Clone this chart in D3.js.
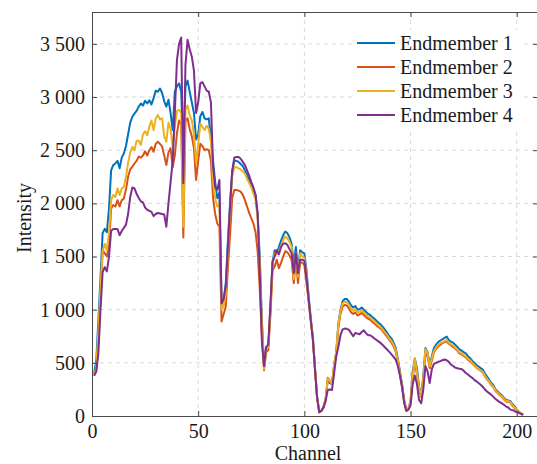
<!DOCTYPE html>
<html>
<head>
<meta charset="utf-8">
<script src="https://cdn.jsdelivr.net/npm/d3@7"></script>
<style>
  body { margin: 0; background: #fff; }
  text { font-family: "Liberation Serif", "Times New Roman", serif; }
</style>
</head>
<body>
<div id="chart"></div>
<script>
  const width = 537;
  const height = 464;
  const margin = { top: 12, bottom: 48, left: 92, right: -1 };

  // channel numbers 1..203
  const channels = d3.range(1, 204);

  const endmember1 = [
    400, 520, 900, 1300, 1720, 1760, 1730, 1950, 2310, 2360,
    2375, 2400, 2330, 2430, 2470, 2540, 2650, 2760, 2815, 2845,
    2870, 2910, 2940, 2920, 2965, 2940, 2970, 2930, 2990, 3060,
    3050, 3080, 3040, 2960, 2910, 2975, 2850, 2690, 3050, 3100,
    3130, 3050, 2450, 3100, 3155, 3050, 2950, 2850, 2600, 2650,
    2820, 2860, 2800, 2790, 2800, 2600, 2400, 2200, 2050, 2100,
    1050, 1100, 1250, 1650, 2000, 2300, 2400, 2400, 2390, 2370,
    2350, 2310, 2270, 2220, 2180, 2130, 2080, 1900, 1500, 900,
    480, 640, 660, 1000, 1450, 1560, 1530, 1590, 1650, 1700,
    1735, 1720, 1680, 1620, 1420, 1590, 1380, 1560, 1540, 1530,
    1370, 1130, 920, 740, 450, 180, 40, 50, 90, 160,
    340, 310, 300, 480, 600, 870, 1000, 1080, 1100, 1100,
    1075, 1040, 1020, 1035, 1000, 1005, 1020, 1000, 980, 960,
    950, 930, 915, 895, 875, 860, 835, 810, 780, 750,
    730, 690, 640, 540, 420, 300, 150, 60, 70, 140,
    420, 540, 450, 275, 200, 380, 640, 600, 480, 560,
    640, 670, 696, 710, 722, 735, 747, 715, 700, 690,
    670, 650, 627, 615, 600, 590, 563, 545, 520, 500,
    480, 465, 450, 437, 400, 370, 340, 310, 290, 250,
    230, 210, 195, 170, 150, 145, 140, 110, 90, 60,
    40, 25, 15
  ];

  const endmember2 = [
    380, 420, 700, 1100, 1560, 1530, 1500, 1600, 1950, 1985,
    1970, 2030, 1970, 2030, 2045, 2130, 2250, 2320, 2345, 2375,
    2400, 2440, 2430, 2450, 2490, 2450, 2500, 2530, 2485, 2560,
    2580, 2560, 2535, 2450, 2360, 2480, 2520, 2340, 2450, 2660,
    2780, 2740, 1680, 2780, 2800, 2700, 2630, 2520, 2220, 2400,
    2560, 2540, 2500, 2510, 2500, 2400, 2050, 1900, 1810, 1780,
    890, 960, 1030, 1400, 1700, 2050, 2125, 2125, 2120, 2110,
    2080, 2030, 1970, 1910, 1860, 1810, 1730, 1550, 1190, 750,
    430, 600, 620, 950, 1370, 1405, 1470, 1390, 1440, 1500,
    1550, 1540, 1510, 1470, 1250, 1460, 1250, 1450, 1440, 1420,
    1250, 1080, 900, 720, 440, 170, 35, 45, 80, 150,
    360, 330, 300, 470, 580, 830, 960, 1030, 1045, 1040,
    1010, 975, 960, 975, 945, 955, 970, 950, 930, 915,
    905, 885, 870, 850, 835, 820, 795, 770, 745, 715,
    690, 655, 605, 510, 390, 275, 135, 50, 65, 130,
    360, 510, 390, 250, 180, 340, 590, 560, 450, 520,
    600, 630, 655, 670, 685, 695, 700, 680, 665, 650,
    635, 615, 590, 580, 565, 550, 530, 515, 495, 475,
    455, 440, 425, 410, 375, 345, 320, 290, 270, 235,
    215, 195, 180, 155, 135, 135, 125, 95, 75, 50,
    32, 20, 10
  ];

  const endmember3 = [
    390, 450, 800, 1200, 1550, 1620, 1560, 1720, 2030, 2080,
    2060, 2140, 2080, 2140, 2155, 2250, 2380, 2480, 2530, 2500,
    2590, 2590, 2550, 2650, 2680, 2640, 2720, 2780, 2690, 2800,
    2830, 2790, 2800, 2630, 2580, 2760, 2700, 2530, 2720, 2870,
    2880, 2850, 1780, 2880, 2920, 2830, 2780, 2650, 2380, 2550,
    2750, 2720, 2690, 2730, 2700, 2580, 2200, 2050, 1970, 2000,
    1000, 1030, 1150, 1550, 1950, 2250, 2340, 2340, 2330, 2320,
    2300, 2280, 2230, 2190, 2150, 2090, 2040, 1850, 1450, 870,
    440, 630, 650, 980, 1420, 1530, 1520, 1550, 1600, 1650,
    1690, 1670, 1640, 1590, 1290, 1530, 1310, 1530, 1500, 1490,
    1330, 1100, 910, 730, 445, 175, 38, 48, 85, 160,
    350, 330, 300, 480, 600, 860, 990, 1060, 1075, 1070,
    1045, 1010, 990, 1005, 975, 980, 995, 975, 955, 935,
    925, 905, 890, 870, 850, 835, 810, 785, 760, 730,
    705, 670, 620, 520, 400, 285, 140, 55, 70, 140,
    380, 540, 410, 260, 190, 360, 630, 590, 470, 540,
    610, 645, 670, 685, 695, 705, 715, 690, 675, 665,
    645, 625, 600, 590, 575, 560, 540, 525, 500, 480,
    460, 445, 430, 415, 380, 350, 325, 295, 275, 240,
    220, 200, 185, 160, 140, 140, 130, 100, 80, 55,
    35, 22, 12
  ];

  const endmember4 = [
    380, 420, 590, 1000, 1350, 1400, 1360, 1500, 1740, 1760,
    1760, 1760, 1700, 1740, 1770, 1800, 1900, 2060, 2150, 2140,
    2090, 2050, 2020, 2010, 1960, 1940, 1930, 1920, 1880, 1900,
    1910, 1905, 1900, 1895, 1780, 2000, 2200, 2400, 2850, 3350,
    3500, 3560, 2190, 3300, 3540, 3450, 3380, 3250, 2850, 2950,
    3130, 3140, 3100, 3060, 3050, 2950, 2350, 2150, 2130, 2220,
    1060, 1100, 1220, 1600, 1970, 2300, 2430, 2437, 2437, 2420,
    2390, 2360, 2310, 2260, 2200, 2150, 2080, 1900, 1340, 700,
    470, 650, 670, 1050, 1450, 1500, 1560, 1520, 1590, 1620,
    1625, 1610, 1570, 1530, 1344, 1530, 1344, 1470, 1470, 1460,
    1300, 1100, 900, 720, 430, 170, 35, 50, 80, 140,
    244, 250, 245, 400, 560, 650, 760, 815, 822, 820,
    810, 780, 750, 781, 775, 769, 790, 806, 780, 759,
    759, 745, 728, 715, 700, 685, 665, 645, 625, 603,
    580, 556, 530, 470, 380, 270, 120, 47, 60, 100,
    300, 380, 300, 150, 120, 250, 470, 420, 310, 440,
    490, 500, 510, 516, 525, 532, 525, 510, 484, 470,
    455, 450, 445, 443, 425, 405, 390, 373, 360, 340,
    326, 310, 294, 275, 250, 230, 215, 199, 180, 160,
    145, 130, 120, 105, 89, 80, 60, 55, 45, 38,
    30, 19, 12
  ];

  const seriesNames = ["Endmember 1", "Endmember 2", "Endmember 3", "Endmember 4"];
  const seriesValues = [endmember1, endmember2, endmember3, endmember4];
  const colors = ["#0072BD", "#D95319", "#EDB120", "#7E2F8E"];
  const xTicks = [0, 50, 100, 150, 200];
  const yTicks = [0, 500, 1000, 1500, 2000, 2500, 3000, 3500];

  const svg = d3.select("#chart")
    .append("svg")
    .attr("width", width)
    .attr("height", height);

  const x = d3.scaleLinear()
    .domain([0, 210])
    .range([margin.left, width - margin.right]);

  const y = d3.scaleLinear()
    .domain([0, 3800])
    .range([height - margin.bottom, margin.top]);

  const fmt = d3.formatLocale({ decimal: ".", thousands: " ", grouping: [3], currency: ["", ""] }).format(",d");

  // grid
  svg.append("g")
    .selectAll("line")
    .data(xTicks.filter(d => d > 0))
    .join("line")
    .attr("x1", d => x(d)).attr("x2", d => x(d))
    .attr("y1", y(0)).attr("y2", y(3800))
    .attr("stroke", "#d9d9d9")
    .attr("stroke-dasharray", "4,4");

  svg.append("g")
    .selectAll("line")
    .data(yTicks.filter(d => d > 0))
    .join("line")
    .attr("x1", x(0)).attr("x2", x(210))
    .attr("y1", d => y(d)).attr("y2", d => y(d))
    .attr("stroke", "#d9d9d9")
    .attr("stroke-dasharray", "4,4");

  // lines
  const line = d3.line()
    .x((d, i) => x(channels[i]))
    .y(d => y(d));

  svg.append("g")
    .selectAll("path")
    .data(seriesValues)
    .join("path")
    .attr("d", d => line(d))
    .attr("fill", "none")
    .attr("stroke", (d, i) => colors[i])
    .attr("stroke-width", 2)
    .attr("stroke-linejoin", "round");

  // axes
  const axisColor = "#4a4a4a";
  const styleAxis = g => {
    g.select(".domain").attr("stroke", axisColor);
    g.selectAll(".tick line").attr("stroke", axisColor);
    g.selectAll("text")
      .attr("fill", "#1a1a1a")
      .attr("font-family", "Liberation Serif, Times New Roman, serif")
      .style("font-size", "20px");
  };

  svg.append("g")
    .attr("transform", `translate(0,${y(0)})`)
    .call(d3.axisBottom(x).tickValues(xTicks).tickSize(-5).tickSizeOuter(0).tickPadding(8))
    .call(styleAxis);

  svg.append("g")
    .attr("transform", `translate(${x(0)},0)`)
    .call(d3.axisLeft(y).tickValues(yTicks).tickFormat(fmt).tickSize(-5).tickSizeOuter(0).tickPadding(7))
    .call(styleAxis);

  svg.append("g")
    .attr("transform", `translate(0,${y(3800)})`)
    .call(d3.axisTop(x).tickValues(xTicks).tickSize(-5).tickSizeOuter(0).tickFormat(""))
    .call(styleAxis);

  svg.append("g")
    .attr("transform", `translate(${x(210)},0)`)
    .call(d3.axisRight(y).tickValues(yTicks).tickSize(-5).tickSizeOuter(0).tickFormat(""))
    .call(styleAxis);

  // axis titles
  svg.append("text")
    .attr("x", x(105) - 7)
    .attr("y", 460)
    .attr("text-anchor", "middle")
    .attr("fill", "#1a1a1a")
    .style("font-size", "20px")
    .text("Channel");

  svg.append("text")
    .attr("transform", "translate(31,218) rotate(-90)")
    .attr("text-anchor", "middle")
    .attr("fill", "#1a1a1a")
    .style("font-size", "20px")
    .text("Intensity");

  // legend
  const legend = svg.append("g").attr("transform", "translate(352,30)");
  legend.append("rect")
    .attr("width", 170)
    .attr("height", 98)
    .attr("fill", "#fff");

  const rows = legend.selectAll("g")
    .data(seriesNames)
    .join("g")
    .attr("transform", (d, i) => `translate(0,${13 + i * 24})`);

  rows.append("line")
    .attr("x1", 5).attr("x2", 43)
    .attr("stroke", (d, i) => colors[i])
    .attr("stroke-width", 2);

  rows.append("text")
    .attr("x", 48)
    .attr("dy", "0.35em")
    .attr("fill", "#1a1a1a")
    .style("font-size", "20px")
    .text(d => d);
</script>
</body>
</html>
